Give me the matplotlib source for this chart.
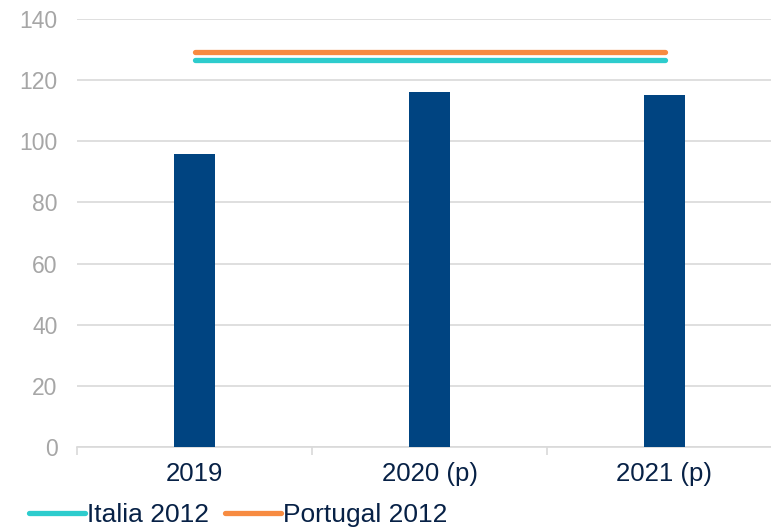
import numpy as np
import matplotlib.pyplot as plt
from matplotlib.lines import Line2D

plt.rcParams['font.family'] = ['Liberation Sans', 'DejaVu Sans']

# 数据
categories = ['2019', '2020 (p)', '2021 (p)']
bar_values = [95.8, 116.1, 115.0]
italia_2012 = [126.6, 126.6, 126.6]
portugal_2012 = [129.1, 129.1, 129.1]

bar_color = '#004481'
italia_color = '#2dcccd'
portugal_color = '#f78b41'
grid_color = '#d9d9d9'
label_color = '#072146'

fig = plt.figure(figsize=(7.71, 5.27), dpi=100)
ax = fig.add_axes([77 / 771, 1 - 447 / 527, 705 / 771, 428 / 527])

x = np.arange(len(categories))
ax.bar(x, bar_values, width=0.175, color=bar_color, zorder=3)
ax.plot(x, italia_2012, color=italia_color, lw=3.8, solid_capstyle='round', zorder=4)
ax.plot(x, portugal_2012, color=portugal_color, lw=3.8, solid_capstyle='round', zorder=4)

ax.set_xlim(-0.5, 2.5)
ax.set_ylim(0, 140)
ax.set_yticks(np.arange(0, 141, 20))
ax.yaxis.grid(True, color=grid_color, lw=1.2)
ax.set_axisbelow(True)

for s in ['top', 'right', 'left']:
    ax.spines[s].set_visible(False)
ax.spines['bottom'].set_color(grid_color)
ax.spines['bottom'].set_linewidth(1.2)

ax.set_xticks(x)
ax.set_xticklabels(categories, fontsize=18.5, color=label_color)
ax.tick_params(axis='x', which='major', length=0, pad=11)
ax.set_xticks([-0.5, 0.5, 1.5, 2.5], minor=True)
ax.tick_params(axis='x', which='minor', length=6, color=grid_color, width=1.2)
ax.tick_params(axis='y', length=0, pad=14, labelsize=16.5, labelcolor='#a6a6a6')

handles = [Line2D([], [], color=italia_color, lw=3.8, solid_capstyle='round'),
           Line2D([], [], color=portugal_color, lw=3.8, solid_capstyle='round')]
fig.legend(handles, ['Italia 2012', 'Portugal 2012'], loc='lower left',
           bbox_to_anchor=(0.038, 0.0), ncol=2, frameon=False,
           fontsize=19, labelcolor=label_color, handlelength=2.1,
           handletextpad=0.1, columnspacing=0.6, borderaxespad=0, borderpad=0)

fig.savefig('out.png', dpi=100)
